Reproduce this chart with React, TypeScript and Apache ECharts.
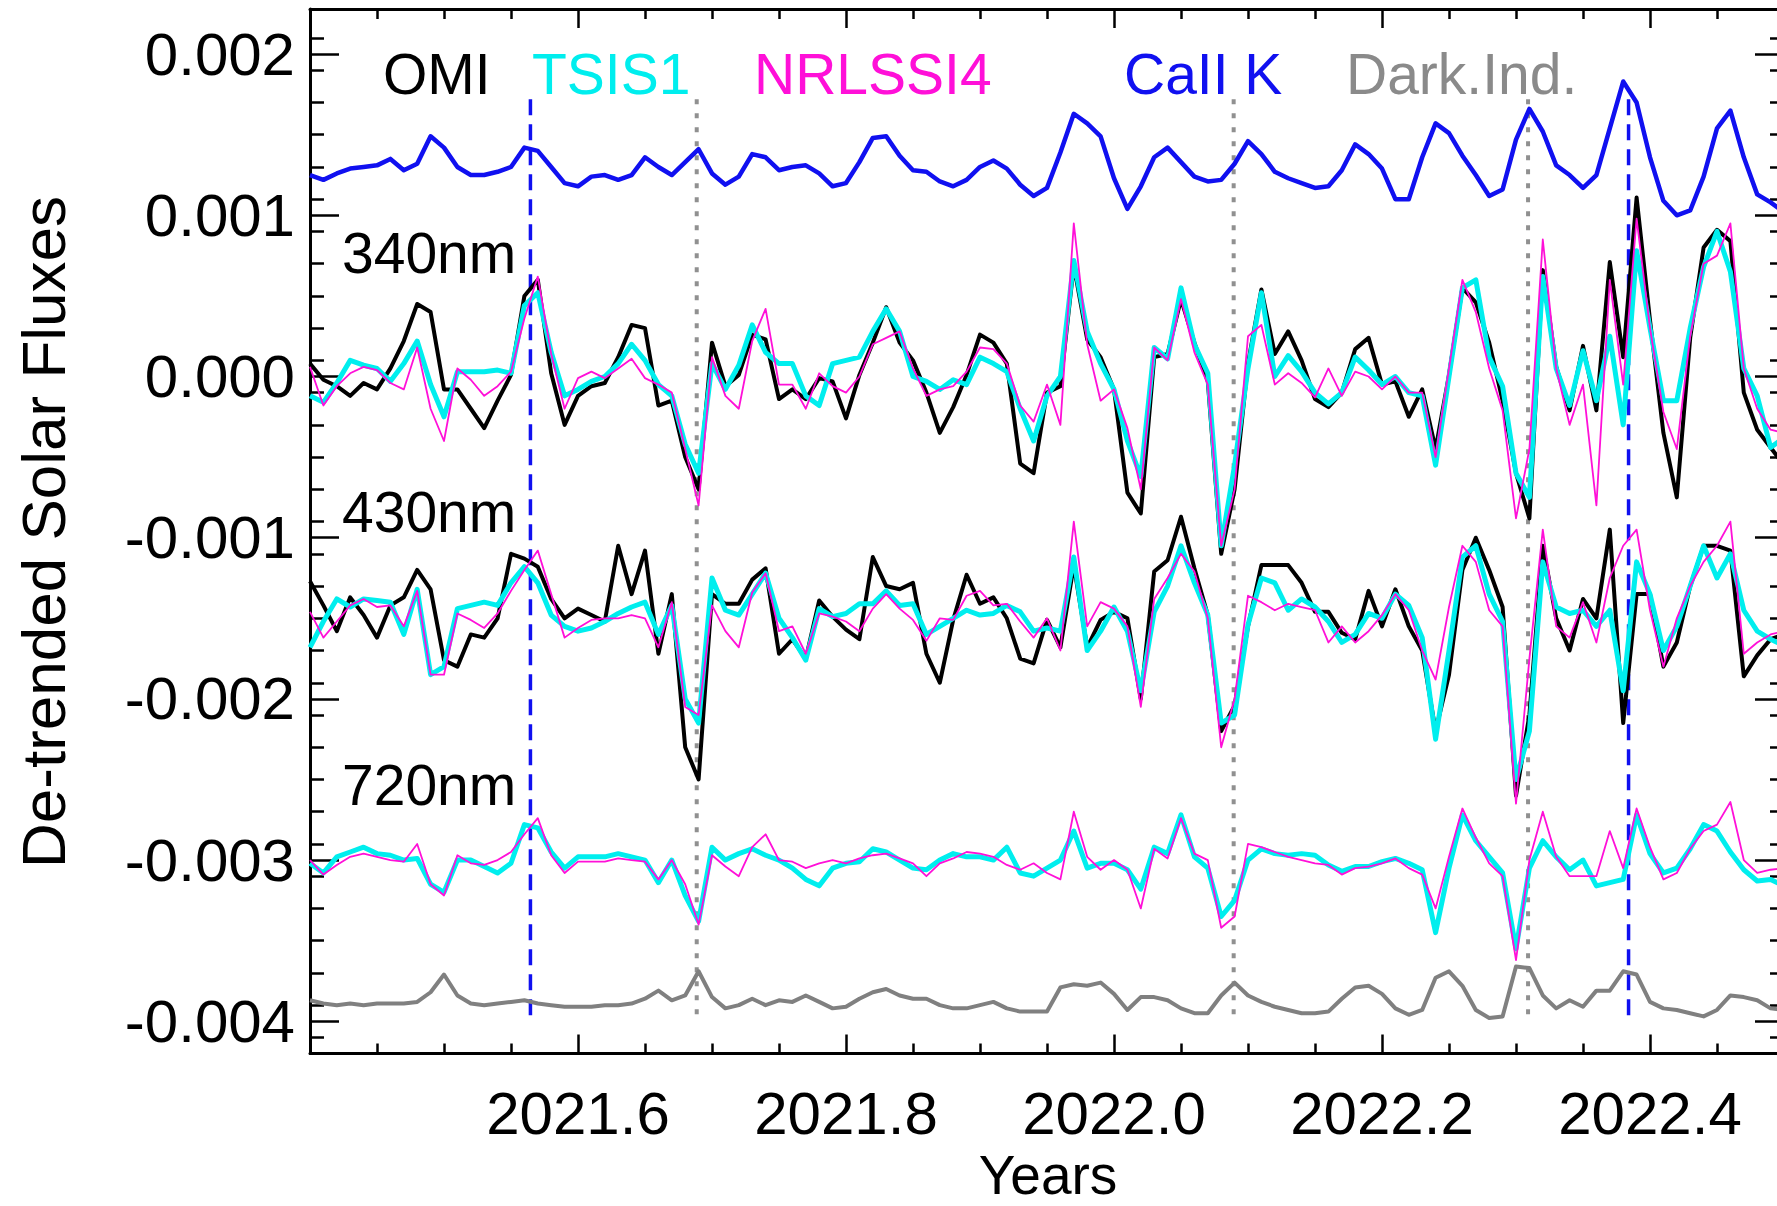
import React, { useEffect, useRef } from "react";
import * as echarts from "echarts";

// Sampling grid of the de-trended series: 2021.40 ... 2022.50, every 0.01 yr
const YEAR_START = 2021.4;
const YEAR_STEP = 0.01;
const SAMPLE_COUNT = 111;
const years: number[] = Array.from({ length: SAMPLE_COUNT }, (_, i) =>
  Number((YEAR_START + i * YEAR_STEP).toFixed(2))
);

// All flux values below are in units of 1e-3
const UNIT = 1e-3;

// Ca II K index (offset to the top of the panel)
const caIIK = [
  1.25, 1.22, 1.26, 1.29, 1.30, 1.31, 1.35, 1.28, 1.32, 1.49,
  1.42, 1.30, 1.25, 1.25, 1.27, 1.30, 1.42, 1.40, 1.30, 1.20,
  1.18, 1.24, 1.25, 1.22, 1.25, 1.36, 1.30, 1.25, 1.33, 1.41,
  1.26, 1.19, 1.24, 1.38, 1.36, 1.28, 1.30, 1.31, 1.26, 1.18,
  1.20, 1.33, 1.48, 1.49, 1.37, 1.28, 1.27, 1.21, 1.18, 1.22,
  1.30, 1.34, 1.29, 1.19, 1.12, 1.17, 1.39, 1.63, 1.57, 1.49,
  1.23, 1.04, 1.18, 1.36, 1.42, 1.33, 1.24, 1.21, 1.22, 1.32,
  1.46, 1.38, 1.27, 1.23, 1.20, 1.17, 1.18, 1.28, 1.44, 1.38,
  1.29, 1.10, 1.10, 1.36, 1.57, 1.51, 1.37, 1.25, 1.12, 1.16,
  1.47, 1.66, 1.52, 1.31, 1.25, 1.17, 1.25, 1.54, 1.83, 1.70,
  1.36, 1.09, 1.00, 1.03, 1.24, 1.54, 1.65, 1.36, 1.13, 1.08,
  1.02,
];

// Darkening index (offset to the bottom of the panel)
const darkIndex = [
  -3.87, -3.89, -3.90, -3.89, -3.90, -3.89, -3.89, -3.89, -3.88, -3.82,
  -3.71, -3.84, -3.89, -3.90, -3.89, -3.88, -3.87, -3.89, -3.90, -3.91,
  -3.91, -3.91, -3.90, -3.90, -3.89, -3.86, -3.81, -3.87, -3.84, -3.69,
  -3.85, -3.92, -3.90, -3.86, -3.90, -3.87, -3.88, -3.84, -3.88, -3.92,
  -3.91, -3.86, -3.82, -3.80, -3.84, -3.86, -3.86, -3.90, -3.92, -3.92,
  -3.90, -3.88, -3.92, -3.94, -3.94, -3.94, -3.79, -3.77, -3.78, -3.76,
  -3.83, -3.93, -3.85, -3.85, -3.87, -3.92, -3.95, -3.95, -3.84, -3.76,
  -3.84, -3.88, -3.91, -3.93, -3.95, -3.95, -3.94, -3.86, -3.79, -3.78,
  -3.83, -3.92, -3.96, -3.93, -3.73, -3.69, -3.78, -3.93, -3.98, -3.97,
  -3.66, -3.67, -3.84, -3.92, -3.87, -3.91, -3.81, -3.81, -3.69, -3.71,
  -3.88, -3.92, -3.93, -3.95, -3.97, -3.93, -3.84, -3.85, -3.87, -3.92,
  -3.93,
];

// 340 nm
const omi340 = [
  0.08, -0.02, -0.06, -0.12, -0.04, -0.08, 0.05, 0.22, 0.45, 0.40,
  -0.08, -0.08, -0.20, -0.32, -0.15, 0.01, 0.50, 0.60, 0.02, -0.30,
  -0.12, -0.06, -0.04, 0.12, 0.32, 0.30, -0.18, -0.15, -0.50, -0.70,
  0.21, -0.06, 0.01, 0.26, 0.23, -0.14, -0.08, -0.14, -0.01, -0.03,
  -0.26, 0.01, 0.21, 0.43, 0.21, 0.10, -0.10, -0.35, -0.19, 0.01,
  0.26, 0.21, 0.08, -0.54, -0.60, -0.10, -0.06, 0.69, 0.23, 0.12,
  -0.08, -0.72, -0.85, 0.12, 0.14, 0.48, 0.21, -0.03, -1.10, -0.70,
  0.08, 0.54, 0.14, 0.28, 0.10, -0.14, -0.19, -0.10, 0.17, 0.24,
  -0.05, -0.03, -0.25, -0.08, -0.45, 0.01, 0.55, 0.46, 0.21, -0.15,
  -0.60, -0.88, 0.66, 0.06, -0.21, 0.19, -0.21, 0.71, 0.12, 1.11,
  0.35, -0.35, -0.75, 0.24, 0.80, 0.91, 0.84, -0.10, -0.33, -0.44,
  -0.55,
];
const tsis340 = [
  -0.12, -0.16, -0.04, 0.10, 0.07, 0.05, -0.03, 0.08, 0.22, -0.05,
  -0.25, 0.03, 0.03, 0.03, 0.04, 0.02, 0.44, 0.52, 0.15, -0.12,
  -0.08, -0.03, 0.00, 0.08, 0.20, 0.10, -0.05, -0.12, -0.42, -0.60,
  0.08, -0.08, 0.07, 0.32, 0.15, 0.08, 0.08, -0.12, -0.18, 0.08,
  0.10, 0.12, 0.28, 0.42, 0.28, 0.00, -0.03, -0.08, -0.02, -0.05,
  0.12, 0.08, 0.03, -0.20, -0.40, -0.12, 0.00, 0.72, 0.28, 0.08,
  -0.08, -0.40, -0.62, 0.18, 0.11, 0.55, 0.20, 0.02, -1.05, -0.55,
  0.05, 0.52, 0.00, 0.13, 0.03, -0.10, -0.17, -0.10, 0.12, 0.04,
  -0.05, 0.00, -0.10, -0.12, -0.55, 0.00, 0.55, 0.60, 0.12, -0.06,
  -0.60, -0.75, 0.62, 0.05, -0.18, 0.16, -0.15, 0.25, -0.30, 0.78,
  0.30, -0.15, -0.15, 0.30, 0.68, 0.90, 0.65, 0.05, -0.12, -0.44,
  -0.38,
];
const nrl340 = [
  0.06, -0.18, -0.06, 0.02, 0.06, 0.04, -0.04, -0.08, 0.18, -0.20,
  -0.40, 0.05, -0.02, -0.12, -0.06, 0.03, 0.36, 0.62, 0.14, -0.20,
  -0.01, 0.03, -0.01, 0.05, 0.11, -0.01, -0.05, -0.10, -0.45, -0.80,
  0.12, -0.12, -0.20, 0.22, 0.42, -0.05, -0.05, -0.20, 0.02, -0.06,
  -0.10, 0.00, 0.20, 0.24, 0.28, 0.05, -0.12, -0.08, -0.06, 0.03,
  0.18, 0.17, 0.08, -0.18, -0.28, -0.05, -0.30, 0.95, 0.20, -0.15,
  -0.08, -0.32, -0.70, 0.18, 0.10, 0.48, 0.15, -0.05, -1.05, -0.70,
  0.25, 0.32, -0.05, 0.02, -0.04, -0.13, 0.05, -0.12, 0.03, 0.00,
  -0.08, 0.00, -0.10, -0.10, -0.50, 0.05, 0.60, 0.40, 0.05, -0.21,
  -0.88, -0.45, 0.85, 0.05, -0.30, -0.05, -0.80, 0.60, -0.05, 0.98,
  0.30, -0.22, -0.45, 0.25, 0.70, 0.75, 0.95, 0.05, -0.20, -0.33,
  -0.35,
];

// 430 nm
const omi430 = [
  -1.27, -1.42, -1.58, -1.37, -1.48, -1.62, -1.42, -1.37, -1.20, -1.32,
  -1.76, -1.80, -1.60, -1.62, -1.50, -1.10, -1.13, -1.18, -1.38, -1.50,
  -1.44, -1.48, -1.52, -1.05, -1.35, -1.08, -1.72, -1.35, -2.30, -2.50,
  -1.35, -1.41, -1.41, -1.26, -1.19, -1.72, -1.63, -1.75, -1.39, -1.49,
  -1.57, -1.63, -1.12, -1.30, -1.32, -1.28, -1.72, -1.90, -1.51, -1.23,
  -1.41, -1.37, -1.50, -1.75, -1.78, -1.51, -1.68, -1.17, -1.68, -1.51,
  -1.46, -1.50, -2.00, -1.21, -1.14, -0.87, -1.19, -1.48, -2.20, -2.04,
  -1.55, -1.17, -1.17, -1.17, -1.28, -1.46, -1.46, -1.59, -1.63, -1.33,
  -1.55, -1.32, -1.55, -1.70, -2.20, -1.85, -1.20, -1.00, -1.20, -1.43,
  -2.60, -2.10, -1.05, -1.50, -1.70, -1.38, -1.50, -0.95, -2.15, -1.35,
  -1.35, -1.80, -1.65, -1.30, -1.05, -1.05, -1.08, -1.86, -1.73, -1.63,
  -1.60,
];
const tsis430 = [
  -1.68, -1.52, -1.38, -1.43, -1.38, -1.39, -1.40, -1.60, -1.32, -1.85,
  -1.80, -1.44, -1.42, -1.40, -1.42, -1.28, -1.18, -1.28, -1.48, -1.55,
  -1.58, -1.56, -1.52, -1.47, -1.43, -1.40, -1.60, -1.42, -2.00, -2.15,
  -1.25, -1.45, -1.48, -1.35, -1.22, -1.50, -1.62, -1.76, -1.44, -1.49,
  -1.47, -1.41, -1.41, -1.33, -1.42, -1.41, -1.60, -1.55, -1.50, -1.45,
  -1.48, -1.47, -1.42, -1.46, -1.58, -1.56, -1.58, -1.12, -1.70, -1.58,
  -1.43, -1.58, -1.95, -1.46, -1.30, -1.05, -1.28, -1.48, -2.15, -2.10,
  -1.54, -1.25, -1.28, -1.45, -1.38, -1.43, -1.52, -1.65, -1.60, -1.47,
  -1.50, -1.35, -1.42, -1.62, -2.25, -1.70, -1.12, -1.05, -1.35, -1.52,
  -2.50, -2.20, -1.15, -1.43, -1.47, -1.45, -1.55, -1.45, -1.95, -1.15,
  -1.35, -1.70, -1.55, -1.30, -1.05, -1.25, -1.10, -1.45, -1.58, -1.63,
  -1.67,
];
const nrl430 = [
  -1.46, -1.62, -1.52, -1.42, -1.38, -1.43, -1.42, -1.55, -1.33, -1.85,
  -1.85, -1.47, -1.51, -1.56, -1.47, -1.33, -1.20, -1.08, -1.35, -1.62,
  -1.56, -1.51, -1.50, -1.50, -1.48, -1.50, -1.68, -1.40, -2.05, -2.10,
  -1.42, -1.58, -1.68, -1.34, -1.22, -1.58, -1.55, -1.72, -1.47, -1.49,
  -1.52, -1.58, -1.44, -1.35, -1.44, -1.51, -1.64, -1.50, -1.51, -1.36,
  -1.33, -1.42, -1.41, -1.52, -1.62, -1.50, -1.70, -0.90, -1.55, -1.40,
  -1.44, -1.55, -2.05, -1.38, -1.25, -1.10, -1.21, -1.50, -2.30, -2.00,
  -1.36, -1.40, -1.45, -1.41, -1.43, -1.45, -1.65, -1.55, -1.65, -1.58,
  -1.48, -1.35, -1.45, -1.70, -1.88, -1.43, -1.05, -1.15, -1.45, -1.55,
  -2.65, -1.75, -0.95, -1.55, -1.62, -1.40, -1.65, -1.25, -1.05, -0.95,
  -1.45, -1.80, -1.50, -1.30, -1.15, -1.05, -0.90, -1.72, -1.65, -1.60,
  -1.58,
];

// 720 nm
const tsis720 = [
  -3.02, -3.08, -2.98, -2.95, -2.92, -2.96, -2.97, -3.00, -2.99, -3.15,
  -3.20, -3.00, -3.00, -3.04, -3.08, -3.02, -2.78, -2.80, -2.95, -3.05,
  -2.98, -2.98, -2.98, -2.96, -2.98, -3.00, -3.14, -3.00, -3.22, -3.38,
  -2.92, -3.00, -2.96, -2.93, -2.97, -3.00, -3.05, -3.12, -3.16, -3.05,
  -3.02, -3.01, -2.93, -2.95, -3.00, -3.05, -3.06, -3.00, -2.96, -2.98,
  -2.98, -3.00, -2.92, -3.08, -3.10, -3.05, -3.00, -2.82, -3.05, -3.02,
  -3.02, -3.06, -3.18, -2.92, -2.96, -2.72, -2.98, -3.05, -3.35, -3.25,
  -3.00, -2.93, -2.96, -2.97, -2.96, -2.97, -3.03, -3.07, -3.04, -3.04,
  -3.01, -2.99, -3.02, -3.06, -3.45, -3.05, -2.72, -2.88, -2.98, -3.08,
  -3.55, -3.05, -2.88, -2.98, -3.06, -3.00, -3.16, -3.14, -3.12, -2.72,
  -2.96, -3.08, -3.05, -2.93, -2.78, -2.82, -2.95, -3.06, -3.13, -3.12,
  -3.16,
];
const nrl720 = [
  -3.00, -3.09, -3.03, -2.98, -2.96, -2.98, -3.00, -3.01, -2.90, -3.15,
  -3.22, -2.97, -3.02, -3.03, -3.00, -2.95, -2.84, -2.74, -2.97, -3.08,
  -3.01, -3.01, -3.01, -2.99, -3.00, -3.01, -3.12, -3.00, -3.15, -3.40,
  -2.97, -3.04, -3.10, -2.92, -2.84, -3.00, -3.01, -3.05, -3.02, -3.00,
  -3.02, -2.99, -2.97, -2.96, -2.99, -3.02, -3.10, -3.02, -2.99, -2.95,
  -2.96, -2.98, -3.03, -3.06, -3.02, -3.08, -3.12, -2.70, -2.98, -3.06,
  -3.00, -3.06, -3.30, -2.93, -2.99, -2.74, -2.96, -3.00, -3.42, -3.35,
  -2.90, -2.92, -2.95, -2.98, -3.00, -3.02, -3.03, -3.09, -3.05, -3.04,
  -3.02, -2.99, -3.05, -3.09, -3.30, -2.98, -2.68, -2.86, -3.02, -3.10,
  -3.62, -3.00, -2.70, -2.98, -3.10, -3.10, -3.10, -2.82, -3.05, -2.68,
  -2.92, -3.12, -3.08, -2.93, -2.82, -2.78, -2.64, -3.00, -3.08, -3.06,
  -3.05,
];

// Epochs marked with vertical lines (Ca II K maxima dashed, dark-index maxima dotted)
const caKMarkYears = [2021.5645, 2022.384];
const darkMarkYears = [2021.6886, 2022.0893, 2022.309];
const MARK_TOP = 1.72;
const MARK_BOTTOM = -4.0;

// Axis ranges and tick positions
const X_MIN = 2021.4;
const X_MAX = 2022.5;
const X_INTERVAL = 0.2; // minor ticks split it in 4 (0.05 yr)
const Y_MIN = -0.0042;
const Y_MAX = 0.00228;
const Y_INTERVAL = 0.0002; // minor ticks split it in 2 (0.0001)
const xMajorTicks = [2021.4, 2021.6, 2021.8, 2022.0, 2022.2, 2022.4];
const xLabelTicks = [2021.6, 2021.8, 2022.0, 2022.2, 2022.4];
const yMajorTicks = [-0.004, -0.003, -0.002, -0.001, 0, 0.001, 0.002];

const FONT = "'Liberation Sans', Arial, Helvetica, sans-serif";
const COLORS = {
  omi: "#000000",
  tsis: "#00eeee",
  nrl: "#ff10d8",
  caK: "#1010f0",
  dark: "#808080",
  darkText: "#8a8a8a",
};

const toPoints = (values: number[]) => years.map((t, i) => [t, values[i] * UNIT]);

function curve(name: string, values: number[], color: string, width: number) {
  return {
    type: "line",
    name,
    xAxisIndex: 0,
    yAxisIndex: 0,
    data: toPoints(values),
    symbol: "none",
    showSymbol: false,
    silent: true,
    lineStyle: { color, width, join: "round" },
    itemStyle: { color },
  };
}

function markLine(t: number, color: string, dash: number[], width: number) {
  return {
    type: "line",
    xAxisIndex: 0,
    yAxisIndex: 0,
    data: [
      [t, MARK_TOP * UNIT],
      [t, MARK_BOTTOM * UNIT],
    ],
    symbol: "none",
    showSymbol: false,
    silent: true,
    lineStyle: { color, width, type: dash },
  };
}

// Two identical plot rectangles: the second one carries the top and right frame axes
const PLOT_RECT = { left: 310, top: 9, width: 1474, height: 1044.5, containLabel: false };

const frameLine = { show: true, onZero: false, lineStyle: { color: "#000", width: 3 } };
const tickStyle = { color: "#000", width: 2.5 };

function xAxisDef(gridIndex: number, position: "top" | "bottom", labels: boolean) {
  return {
    type: "value",
    gridIndex,
    min: X_MIN,
    max: X_MAX,
    interval: X_INTERVAL,
    position,
    axisLine: frameLine,
    axisTick: { show: true, inside: true, length: 19, lineStyle: tickStyle, customValues: xMajorTicks },
    minorTick: { show: true, splitNumber: 4, length: 10, lineStyle: tickStyle },
    axisLabel: labels
      ? {
          show: true,
          customValues: xLabelTicks,
          formatter: (v: number) => v.toFixed(1),
          margin: 30,
          fontSize: 60,
          fontFamily: FONT,
          color: "#000",
        }
      : { show: false },
    splitLine: { show: false },
    minorSplitLine: { show: false },
  };
}

function yAxisDef(gridIndex: number, position: "left" | "right", labels: boolean) {
  return {
    type: "value",
    gridIndex,
    min: Y_MIN,
    max: Y_MAX,
    interval: Y_INTERVAL,
    position,
    axisLine: frameLine,
    axisTick: { show: true, inside: true, length: 29, lineStyle: tickStyle, customValues: yMajorTicks },
    minorTick: { show: true, splitNumber: 2, length: 14, lineStyle: tickStyle },
    axisLabel: labels
      ? {
          show: true,
          customValues: yMajorTicks,
          formatter: (v: number) => v.toFixed(3),
          margin: 15,
          fontSize: 60,
          fontFamily: FONT,
          color: "#000",
        }
      : { show: false },
    splitLine: { show: false },
    minorSplitLine: { show: false },
  };
}

function label(text: string, x: number, y: number, color: string, size: number, extra: any = {}) {
  return {
    type: "text",
    x,
    y,
    silent: true,
    z: 10,
    ...extra,
    style: {
      text,
      fill: color,
      font: `${size}px ${FONT}`,
      align: extra.align || "left",
      textAlign: extra.align || "left",
      verticalAlign: "middle",
      textVerticalAlign: "middle",
    },
  };
}

export default function App() {
  const ref = useRef<HTMLDivElement>(null);

  useEffect(() => {
    document.documentElement.style.overflow = "hidden";
    document.body.style.margin = "0";
    document.body.style.overflow = "hidden";
    if (!ref.current) return;
    const chart = echarts.init(ref.current, undefined, { renderer: "svg" });

    const option = {
      animation: false,
      backgroundColor: "#ffffff",
      grid: [PLOT_RECT, PLOT_RECT],
      xAxis: [xAxisDef(0, "bottom", true), xAxisDef(1, "top", false)],
      yAxis: [yAxisDef(0, "left", true), yAxisDef(1, "right", false)],
      series: [
        ...caKMarkYears.map((t) => markLine(t, COLORS.caK, [16, 9], 3.5)),
        ...darkMarkYears.map((t) => markLine(t, "#909090", [5, 9], 4)),
        curve("CaII K", caIIK, COLORS.caK, 4.5),
        curve("OMI", omi340, COLORS.omi, 4),
        curve("TSIS1", tsis340, COLORS.tsis, 5),
        curve("NRLSSI4", nrl340, COLORS.nrl, 1.8),
        curve("OMI", omi430, COLORS.omi, 4),
        curve("TSIS1", tsis430, COLORS.tsis, 5),
        curve("NRLSSI4", nrl430, COLORS.nrl, 1.8),
        curve("TSIS1", tsis720, COLORS.tsis, 5),
        curve("NRLSSI4", nrl720, COLORS.nrl, 1.8),
        curve("Dark.Ind.", darkIndex, COLORS.dark, 4),
      ],
      graphic: [
        label("OMI", 383, 74, COLORS.omi, 57),
        label("TSIS1", 532, 74, COLORS.tsis, 57),
        label("NRLSSI4", 754, 74, COLORS.nrl, 57),
        label("CaII K", 1124, 74, COLORS.caK, 57),
        label("Dark.Ind.", 1346, 74, COLORS.darkText, 57),
        label("340nm", 342, 253, "#000", 57),
        label("430nm", 342, 512, "#000", 57),
        label("720nm", 342, 785, "#000", 57),
        label("De-trended Solar Fluxes", 43, 532, "#000", 62, {
          rotation: Math.PI / 2,
          align: "center",
        }),
        label("Years", 1048, 1175, "#000", 55, { align: "center" }),
      ],
    };

    chart.setOption(option as any);
    return () => chart.dispose();
  }, []);

  return (
    <div
      ref={ref}
      style={{ position: "absolute", left: 0, top: 0, width: 1800, height: 1206 }}
    />
  );
}
